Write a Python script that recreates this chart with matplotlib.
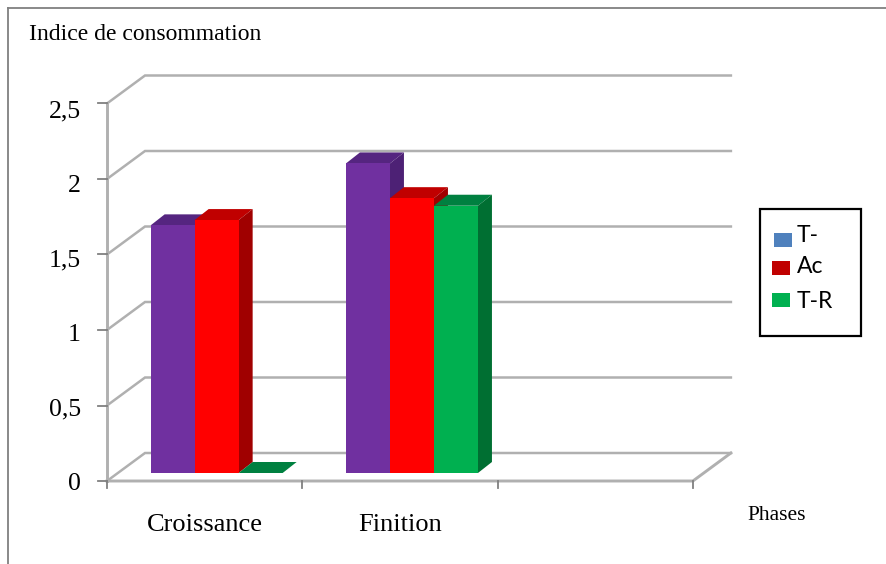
import matplotlib
matplotlib.use("Agg")
import matplotlib.pyplot as plt
from matplotlib.patches import Rectangle

# values
phases = ["Croissance", "Finition", ""]
serie_t = [1.64, 2.05]
serie_ac = [1.675, 1.82]
serie_tr = [0.0, 1.77]
noms = ["T-", "Ac", "T-R"]
y_ticks = [0, 0.5, 1, 1.5, 2, 2.5]
y_labels = ["0", "0,5", "1", "1,5", "2", "2,5"]

# colours: (front, top, side)
couleurs = [("#7030A0", "#552580", "#4D2175"),
            ("#FF0000", "#C00000", "#A00000"),
            ("#00B050", "#008040", "#006F32")]
couleurs_legende = ["#4F81BD", "#C00000", "#00B050"]

W, H = 887, 564
PX_X = 195.3  # pixels for one category
PX_Y = 151.0  # pixels for one unit of value
X0, Y0 = 107, 481  # pixel of the axes origin

fig = plt.figure(figsize=(W / 100, H / 100), dpi=100)
ax = fig.add_axes([0, 0, 1, 1])
ax.set_xlim(-X0 / PX_X, (W - X0) / PX_X)
ax.set_ylim(-(H - Y0) / PX_Y, Y0 / PX_Y)
ax.axis("off")

# depth of the fake 3D box, in data units
dx = 38 / PX_X
dy = 28 / PX_Y
# depth of the bars
bar_dx = 14 / PX_X
bar_dy = 11 / PX_Y
dec_x = 12 / PX_X
dec_y = 8 / PX_Y
largeur = 44 / PX_X

gris = "#B0B0B0"
lw = 1.8
xmax = len(phases)

# wall and floor lines
for v in y_ticks:
    ax.plot([0, dx, dx + xmax], [v, v + dy, v + dy], color=gris, lw=lw, zorder=1,
            solid_joinstyle="miter")
ax.plot([0, 0], [0, y_ticks[-1]], color=gris, lw=lw + 0.3, zorder=1)
ax.plot([0, xmax, xmax + dx], [0, 0, dy], color=gris, lw=lw + 0.3, zorder=1)

# tick marks and labels
for v, lab in zip(y_ticks, y_labels):
    ax.plot([-9 / PX_X, 0], [v, v], color="#808080", lw=1.3, zorder=2)
    ax.text(-26 / PX_X, v * 0.987 - 3 / PX_Y, lab, ha="right", va="center", family="Liberation Serif",
            fontsize=18.5, color="black")
for i in range(xmax + 1):
    ax.plot([i, i], [0, -7 / PX_Y], color="#808080", lw=1.3, zorder=2)
for i, lab in enumerate(phases):
    ax.text(i + 0.5, -44 / PX_Y, lab, ha="center", va="center", family="Liberation Serif",
            fontsize=19, color="black")

# bars, left to right
z = 3
for j, serie in enumerate([serie_t, serie_ac, serie_tr]):
    front, top, side = couleurs[j]
    for i, v in enumerate(serie):
        g = i + 0.5 - 1.5 * largeur + j * largeur + dec_x
        d = g + largeur
        base = dec_y
        h = base + v
        ax.fill([g, g + bar_dx, d + bar_dx, d], [h, h + bar_dy, h + bar_dy, h],
                color=top, lw=0, zorder=z)
        if v > 0:
            ax.fill([d, d + bar_dx, d + bar_dx, d], [base, base + bar_dy, h + bar_dy, h],
                    color=side, lw=0, zorder=z)
            ax.bar(g, v, width=largeur, bottom=base, align="edge", color=front, lw=0, zorder=z + 0.5)
    z += 1

# outer frame (top and left only)
fig.add_artist(plt.Line2D([8 / W, 1], [1 - 8 / H, 1 - 8 / H], color="#808080", lw=1.3))
fig.add_artist(plt.Line2D([8 / W, 8 / W], [0, 1 - 8 / H], color="#808080", lw=1.3))

# hand-placed legend box
fig.add_artist(Rectangle((760 / W, 1 - 336 / H), 101 / W, 127 / H, transform=fig.transFigure,
                         fill=False, edgecolor="black", lw=1.6))
pos_x = [774, 772, 772]
pos_y = [233, 261, 293]
pos_txt = [235, 267, 301]
for nom, c, px, py, pt in zip(noms, couleurs_legende, pos_x, pos_y, pos_txt):
    fig.add_artist(Rectangle((px / W, 1 - (py + 14) / H), 18 / W, 14 / H, transform=fig.transFigure,
                             facecolor=c, edgecolor="none"))
    fig.text(797 / W, 1 - pt / H, nom, ha="left", va="center", family="Lato",
             fontsize=16.5, color="black")

fig.text(29 / W, 1 - 35 / H, "Indice de consommation", ha="left", va="center",
         family="Liberation Serif", fontsize=17, color="black")
fig.text(747 / W, 1 - 515 / H, "Phases", ha="left", va="center",
         family="Liberation Serif", fontsize=15.5, color="black")

fig.savefig("out.png", dpi=100)
